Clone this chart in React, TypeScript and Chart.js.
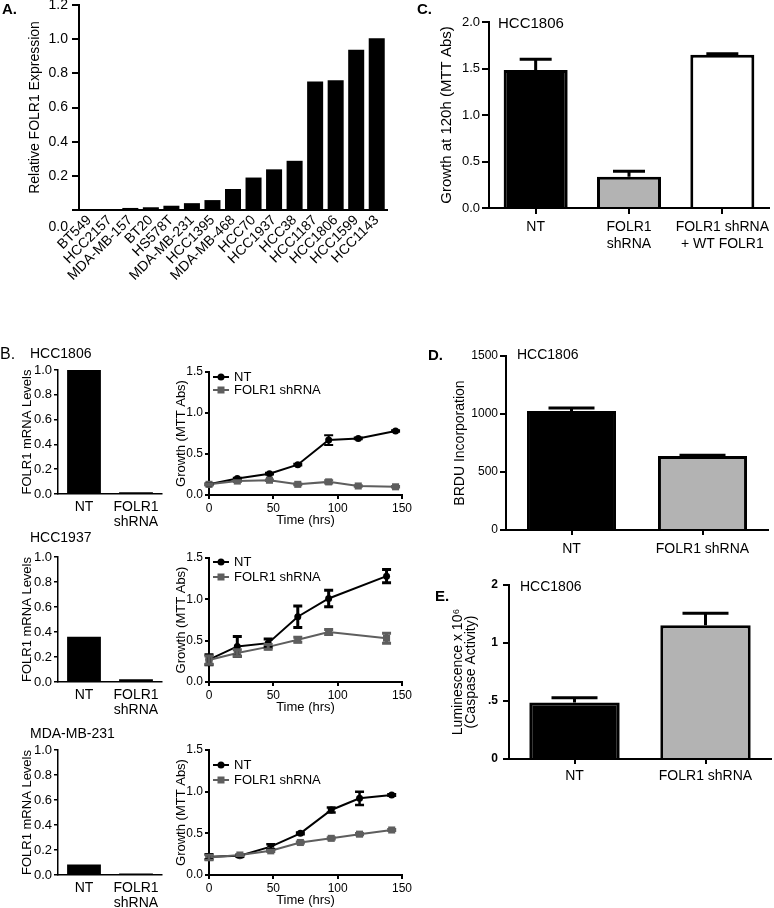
import React, { useEffect, useRef } from 'react';
import { Chart, registerables } from 'chart.js';

Chart.register(...registerables);

const FONT = '"Liberation Sans", Arial, Helvetica, sans-serif';
Chart.defaults.font.family = FONT;
Chart.defaults.color = '#000';

const BLACK = '#000000';
const GRAY_LINE = '#5e5e5e';
const GRAY_BAR = '#b3b3b3';

// ---------------- DATA ----------------
// Panel A
const aCellLines = ['BT549', 'HCC2157', 'MDA-MB-157', 'BT20', 'HS578T', 'MDA-MB-231', 'HCC1395', 'MDA-MB-468', 'HCC70', 'HCC1937', 'HCC38', 'HCC1187', 'HCC1806', 'HCC1599', 'HCC1143'];
const aExpression = [0.002, 0.003, 0.012, 0.016, 0.025, 0.04, 0.058, 0.123, 0.19, 0.238, 0.288, 0.752, 0.76, 0.938, 1.006];

// Panel B - mRNA levels
const bCategories: any[] = ['NT', ['FOLR1', 'shRNA']];
const bMrnaHCC1806 = [1.0, 0.015];
const bMrnaHCC1937 = [0.363, 0.022];
const bMrnaMDA231 = [0.085, 0.012];

// Panel B - growth curves
const bTimeHCC1806 = [0, 22, 47, 69, 93, 116, 145];
const bNtHCC1806 = [0.13, 0.2, 0.26, 0.37, 0.67, 0.69, 0.78];
const bNtErrHCC1806 = [0.01, 0.01, 0.01, 0.01, 0.06, 0.01, 0.01];
const bShHCC1806 = [0.13, 0.17, 0.18, 0.13, 0.16, 0.11, 0.1];
const bShErrHCC1806 = [0.01, 0.01, 0.01, 0.01, 0.02, 0.01, 0.01];

const bTimeHCC1937 = [0, 22, 46, 69, 93, 138];
const bNtHCC1937 = [0.27, 0.43, 0.47, 0.79, 1.01, 1.28];
const bNtErrHCC1937 = [0.06, 0.12, 0.05, 0.13, 0.1, 0.08];
const bShHCC1937 = [0.265, 0.35, 0.425, 0.51, 0.605, 0.53];
const bShErrHCC1937 = [0.05, 0.04, 0.03, 0.03, 0.03, 0.06];

const bTimeMDA231 = [0, 24, 48, 71, 95, 117, 142];
const bNtMDA231 = [0.22, 0.23, 0.34, 0.5, 0.78, 0.92, 0.96];
const bNtErrMDA231 = [0.03, 0.01, 0.03, 0.01, 0.03, 0.08, 0.01];
const bShMDA231 = [0.21, 0.24, 0.29, 0.39, 0.44, 0.49, 0.54];
const bShErrMDA231 = [0.03, 0.01, 0.01, 0.01, 0.01, 0.01, 0.01];

// Panel C
const cCategories: any[] = ['NT', ['FOLR1', 'shRNA'], ['FOLR1 shRNA', '+ WT FOLR1']];
const cGrowth = [1.485, 0.335, 1.649];
const cGrowthErr = [0.115, 0.06, 0.01];

// Panel D
const dCategories = ['NT', 'FOLR1 shRNA'];
const dBrdu = [1026, 638];
const dBrduErr = [26, 6];

// Panel E
const eCategories = ['NT', 'FOLR1 shRNA'];
const eCaspase = [0.487, 1.152];
const eCaspaseErr = [0.04, 0.105];
const eTickLabels = ['0', '.5', '1', '2'];

// ---------------- PLUGINS ----------------
const errorBarPlugin = {
  id: 'errorBars',
  afterDatasetsDraw(chart: any) {
    const ctx = chart.ctx;
    chart.data.datasets.forEach((ds: any, di: number) => {
      if (!ds.errors) return;
      const meta = chart.getDatasetMeta(di);
      const ys = chart.scales[meta.yAxisID];
      ctx.save();
      ctx.strokeStyle = ds.errorColor || '#000';
      ctx.lineWidth = ds.errorWidth || 2;
      ctx.lineCap = 'butt';
      meta.data.forEach((el: any, i: number) => {
        const e = ds.errors[i];
        if (!e) return;
        const d = ds.data[i];
        const v = typeof d === 'number' ? d : d.y;
        const x = el.x;
        const yTop = ys.getPixelForValue(v + e);
        const yBot = ds.errorMode === 'up' ? el.y : ys.getPixelForValue(v - e);
        const hw = ds.capHalf || 4;
        ctx.beginPath();
        ctx.moveTo(x, yBot);
        ctx.lineTo(x, yTop);
        ctx.moveTo(x - hw, yTop);
        ctx.lineTo(x + hw, yTop);
        if (ds.errorMode !== 'up') {
          ctx.moveTo(x - hw, yBot);
          ctx.lineTo(x + hw, yBot);
        }
        ctx.stroke();
      });
      ctx.restore();
    });
  },
};

function zeroLabelPlugin(text: string, dx: number, dy: number, size: number) {
  return {
    id: 'zeroLabel',
    afterDraw(chart: any) {
      const ys = chart.scales.y;
      const ctx = chart.ctx;
      ctx.save();
      ctx.fillStyle = '#000';
      ctx.font = `${size}px ${FONT}`;
      ctx.textAlign = 'right';
      ctx.textBaseline = 'middle';
      ctx.fillText(text, ys.right - dx, ys.getPixelForValue(0) + dy);
      ctx.restore();
    },
  };
}

function legendPlugin(rows: number[]) {
  return {
    id: 'inlineLegend',
    afterDraw(chart: any) {
      const { ctx, chartArea } = chart;
      ctx.save();
      chart.data.datasets.forEach((ds: any, i: number) => {
        const y = chartArea.top + rows[i];
        const x0 = chartArea.left + 4;
        const x1 = chartArea.left + 20;
        ctx.strokeStyle = ds.borderColor;
        ctx.lineWidth = 2;
        ctx.beginPath();
        ctx.moveTo(x0, y);
        ctx.lineTo(x1, y);
        ctx.stroke();
        ctx.fillStyle = ds.borderColor;
        const cx = (x0 + x1) / 2;
        if (ds.pointStyle === 'rect') {
          ctx.fillRect(cx - 3.5, y - 3.5, 7, 7);
        } else {
          ctx.beginPath();
          ctx.arc(cx, y, 3.5, 0, Math.PI * 2);
          ctx.fill();
        }
        ctx.fillStyle = '#000';
        ctx.font = `13px ${FONT}`;
        ctx.textAlign = 'left';
        ctx.textBaseline = 'middle';
        ctx.fillText(ds.label, chartArea.left + 25, y);
      });
      ctx.restore();
    },
  };
}

// ---------------- SCALE HELPERS ----------------
function yLinear(o: any) {
  return {
    type: 'linear',
    min: o.min,
    max: o.max,
    afterFit: (s: any) => {
      s.width = o.width;
      s.paddingTop = 0;
      s.paddingBottom = 0;
    },
    grid: { display: true, drawOnChartArea: false, drawTicks: true, tickLength: o.tickLen, color: '#000', lineWidth: o.lw ?? 2 },
    border: { display: true, color: '#000', width: o.lw ?? 2 },
    ticks: { stepSize: o.step, font: { size: o.size, weight: o.weight ?? 'normal' }, color: '#000', padding: o.pad, callback: o.cb },
    title: {
      display: true,
      text: o.title,
      color: '#000',
      font: { size: o.titleSize, lineHeight: o.titleLH ?? 1.2 },
      padding: { top: o.titlePad, bottom: 0 },
    },
  };
}

function xCategory(o: any) {
  return {
    type: 'category',
    afterFit: (s: any) => {
      s.height = o.height;
      s.paddingLeft = 0;
      s.paddingRight = 0;
    },
    grid: { display: true, offset: false, drawOnChartArea: false, drawTicks: o.tickLen > 0, tickLength: o.tickLen, color: '#000', lineWidth: o.lw ?? 2 },
    border: { display: true, color: '#000', width: o.lw ?? 2 },
    ticks: {
      font: { size: o.size, lineHeight: o.lh ?? 1.2 },
      color: '#000',
      padding: o.pad,
      autoSkip: false,
      maxRotation: o.rotate ?? 0,
      minRotation: o.rotate ?? 0,
    },
  };
}

function xTime(o: any) {
  return {
    type: 'linear',
    min: 0,
    max: 150,
    afterFit: (s: any) => {
      s.height = o.height;
      s.paddingLeft = 0;
      s.paddingRight = 0;
    },
    grid: { display: true, drawOnChartArea: false, drawTicks: true, tickLength: 4, color: '#000', lineWidth: 2 },
    border: { display: true, color: '#000', width: 2 },
    ticks: { stepSize: 50, font: { size: 12 }, color: '#000', padding: 2, callback: (v: number) => String(v) },
    title: { display: true, text: 'Time (hrs)', color: '#000', font: { size: 13 }, padding: { top: 0, bottom: o.titlePadBottom } },
  };
}

const baseOptions = {
  responsive: false,
  animation: false,
  devicePixelRatio: 1,
};

// ---------------- CONFIGS ----------------
function configA() {
  return {
    type: 'bar',
    data: {
      labels: aCellLines,
      datasets: [{ data: aExpression, backgroundColor: BLACK, barPercentage: 0.78, categoryPercentage: 1 }],
    },
    options: {
      ...baseOptions,
      layout: { padding: { left: 0, top: 5, right: 13, bottom: 0 } },
      plugins: { legend: { display: false }, tooltip: { enabled: false } },
      scales: {
        x: xCategory({ height: 90, size: 14, tickLen: 0, pad: 2, rotate: 45 }),
        y: yLinear({
          min: 0, max: 1.2, step: 0.2, width: 79, tickLen: 7, size: 14, pad: 4,
          cb: (v: number) => (Math.abs(v) < 1e-9 ? '' : v.toFixed(1)),
          title: 'Relative FOLR1 Expression', titleSize: 14, titlePad: 26.6,
        }),
      },
    },
    plugins: [zeroLabelPlugin('0.0', 11, 17, 14)],
  };
}

function configC() {
  return {
    type: 'bar',
    data: {
      labels: cCategories,
      datasets: [{
        data: cGrowth,
        backgroundColor: [BLACK, GRAY_BAR, '#ffffff'],
        borderColor: BLACK,
        borderWidth: 3,
        barPercentage: 0.686,
        categoryPercentage: 1,
        errors: cGrowthErr,
        errorMode: 'up',
        errorWidth: 3,
        capHalf: 16,
      }],
    },
    options: {
      ...baseOptions,
      layout: { padding: { left: 0, top: 22, right: 5, bottom: 0 } },
      plugins: { legend: { display: false }, tooltip: { enabled: false } },
      scales: {
        x: xCategory({ height: 52, size: 14, tickLen: 6, pad: 5 }),
        y: yLinear({
          min: 0, max: 2, step: 0.5, width: 89, tickLen: 7, size: 13, pad: 2,
          cb: (v: number) => v.toFixed(1),
          title: 'Growth at 120h (MTT Abs)', titleSize: 15, titlePad: 38,
        }),
      },
    },
    plugins: [errorBarPlugin],
  };
}

function configD() {
  return {
    type: 'bar',
    data: {
      labels: dCategories,
      datasets: [{
        data: dBrdu,
        backgroundColor: [BLACK, GRAY_BAR],
        borderColor: BLACK,
        borderWidth: 3,
        barPercentage: 0.68,
        categoryPercentage: 1,
        errors: dBrduErr,
        errorMode: 'up',
        errorWidth: 3,
        capHalf: 23,
      }],
    },
    options: {
      ...baseOptions,
      layout: { padding: { left: 0, top: 16, right: 6, bottom: 0 } },
      plugins: { legend: { display: false }, tooltip: { enabled: false } },
      scales: {
        x: xCategory({ height: 40, size: 14, tickLen: 5, pad: 6 }),
        y: yLinear({
          min: 0, max: 1500, step: 500, width: 106, tickLen: 6, size: 12, pad: 2,
          cb: (v: number) => String(v),
          title: 'BRDU Incorporation', titleSize: 14, titlePad: 51.6,
        }),
      },
    },
    plugins: [errorBarPlugin],
  };
}

function configE() {
  return {
    type: 'bar',
    data: {
      labels: eCategories,
      datasets: [{
        data: eCaspase,
        backgroundColor: [BLACK, GRAY_BAR],
        borderColor: BLACK,
        borderWidth: 3,
        barPercentage: 0.69,
        categoryPercentage: 1,
        errors: eCaspaseErr,
        errorMode: 'up',
        errorWidth: 3,
        capHalf: 23,
      }],
    },
    options: {
      ...baseOptions,
      layout: { padding: { left: 0, top: 15, right: 3, bottom: 0 } },
      plugins: { legend: { display: false }, tooltip: { enabled: false } },
      scales: {
        x: xCategory({ height: 41, size: 14, tickLen: 5, pad: 4 }),
        y: yLinear({
          min: 0, max: 1.5, step: 0.5, width: 109, tickLen: 6, size: 12, weight: 'bold', pad: 5,
          cb: (_v: number, i: number) => eTickLabels[i],
          title: ['Luminescence x 10\u2076', '(Caspase Activity)'], titleSize: 14, titleLH: 0.95, titlePad: 51.35,
        }),
      },
    },
    plugins: [errorBarPlugin],
  };
}

function configMrna(values: number[], padTop: number, xHeight: number) {
  return {
    type: 'bar',
    data: {
      labels: bCategories,
      datasets: [{ data: values, backgroundColor: BLACK, barPercentage: 0.65, categoryPercentage: 1 }],
    },
    options: {
      ...baseOptions,
      layout: { padding: { left: 0, top: padTop, right: 28, bottom: 0 } },
      plugins: { legend: { display: false }, tooltip: { enabled: false } },
      scales: {
        x: xCategory({ height: xHeight, size: 14, tickLen: 0, pad: 5, lh: 1.1, lw: 1.5 }),
        y: yLinear({
          min: 0, max: 1.0, step: 0.2, width: 58, tickLen: 4, size: 13, pad: 2, lw: 1.5,
          cb: (v: number) => v.toFixed(1),
          title: 'FOLR1 mRNA Levels', titleSize: 13, titlePad: 19.2,
        }),
      },
    },
  };
}

function configGrowth(
  time: number[], nt: number[], ntErr: number[], sh: number[], shErr: number[],
  padTop: number, xHeight: number, titlePadBottom: number, legendRows: number[], errW: number,
) {
  return {
    type: 'line',
    data: {
      datasets: [
        {
          label: 'NT',
          data: time.map((t, i) => ({ x: t, y: nt[i] })),
          borderColor: BLACK,
          backgroundColor: BLACK,
          borderWidth: 2,
          pointStyle: 'circle',
          pointRadius: 3.5,
          pointBorderWidth: 0,
          pointBackgroundColor: BLACK,
          tension: 0,
          clip: false,
          order: 1,
          errors: ntErr,
          errorColor: BLACK,
          errorWidth: errW,
          capHalf: 4.5,
        },
        {
          label: 'FOLR1 shRNA',
          data: time.map((t, i) => ({ x: t, y: sh[i] })),
          borderColor: GRAY_LINE,
          backgroundColor: GRAY_LINE,
          borderWidth: 2,
          pointStyle: 'rect',
          pointRadius: 5,
          pointBorderWidth: 0,
          pointBackgroundColor: GRAY_LINE,
          tension: 0,
          clip: false,
          order: 0,
          errors: shErr,
          errorColor: GRAY_LINE,
          errorWidth: errW,
          capHalf: 4.5,
        },
      ],
    },
    options: {
      ...baseOptions,
      layout: { padding: { left: 0, top: padTop, right: 18, bottom: 0 } },
      plugins: { legend: { display: false }, tooltip: { enabled: false } },
      scales: {
        x: xTime({ height: xHeight, titlePadBottom }),
        y: yLinear({
          min: 0, max: 1.5, step: 0.5, width: 59, tickLen: 4, size: 12, pad: 2,
          cb: (v: number) => v.toFixed(1),
          title: 'Growth (MTT Abs)', titleSize: 13, titlePad: 23.2,
        }),
      },
    },
    plugins: [errorBarPlugin, legendPlugin(legendRows)],
  };
}

// ---------------- COMPONENTS ----------------
function ChartCanvas(props: { left: number; top: number; width: number; height: number; make: () => any }) {
  const ref = useRef<HTMLCanvasElement | null>(null);
  useEffect(() => {
    if (!ref.current) return;
    const chart = new Chart(ref.current, props.make() as any);
    return () => chart.destroy();
  }, []);
  return (
    <canvas
      ref={ref}
      width={props.width}
      height={props.height}
      style={{ position: 'absolute', left: props.left, top: props.top, width: props.width, height: props.height }}
    />
  );
}

function Label(props: { x: number; y: number; size: number; bold?: boolean; children: React.ReactNode }) {
  return (
    <div
      style={{
        position: 'absolute',
        left: props.x,
        top: props.y,
        fontSize: props.size,
        fontWeight: props.bold ? 'bold' : 'normal',
        lineHeight: 1,
        whiteSpace: 'nowrap',
        color: '#000',
      }}
    >
      {props.children}
    </div>
  );
}

export default function App() {
  return (
    <div
      style={{
        position: 'absolute',
        left: 0,
        top: 0,
        width: 774,
        height: 908,
        overflow: 'hidden',
        background: '#fff',
        fontFamily: FONT,
      }}
    >
      <ChartCanvas left={0} top={0} width={400} height={300} make={configA} />
      <ChartCanvas left={400} top={0} width={374} height={260} make={configC} />
      <ChartCanvas left={400} top={340} width={374} height={230} make={configD} />
      <ChartCanvas left={400} top={570} width={374} height={230} make={configE} />

      <ChartCanvas left={0} top={355} width={190} height={180} make={() => configMrna(bMrnaHCC1806, 15, 41)} />
      <ChartCanvas left={0} top={540} width={190} height={180} make={() => configMrna(bMrnaHCC1937, 17, 38)} />
      <ChartCanvas left={0} top={733} width={190} height={175} make={() => configMrna(bMrnaMDA231, 17, 33)} />

      <ChartCanvas left={150} top={355} width={270} height={175}
        make={() => configGrowth(bTimeHCC1806, bNtHCC1806, bNtErrHCC1806, bShHCC1806, bShErrHCC1806, 17, 35, 2.2, [5, 18], 2)} />
      <ChartCanvas left={150} top={540} width={270} height={177}
        make={() => configGrowth(bTimeHCC1937, bNtHCC1937, bNtErrHCC1937, bShHCC1937, bShErrHCC1937, 18, 35, 2.2, [4, 19], 3)} />
      <ChartCanvas left={150} top={733} width={270} height={175}
        make={() => configGrowth(bTimeMDA231, bNtMDA231, bNtErrMDA231, bShMDA231, bShErrMDA231, 17, 33, 0.2, [15, 30], 2.5)} />

      <Label x={2} y={1} size={15} bold>A.</Label>
      <Label x={417} y={1} size={15} bold>C.</Label>
      <Label x={498} y={14.6} size={15}>HCC1806</Label>
      <Label x={428} y={346.6} size={15} bold>D.</Label>
      <Label x={517} y={347} size={14}>HCC1806</Label>
      <Label x={435} y={587.6} size={15} bold>E.</Label>
      <Label x={520} y={579} size={14}>HCC1806</Label>
      <Label x={0} y={345.7} size={16}>B.</Label>
      <Label x={30} y={346} size={14}>HCC1806</Label>
      <Label x={30} y={530} size={14}>HCC1937</Label>
      <Label x={30} y={726} size={14}>MDA-MB-231</Label>
    </div>
  );
}
